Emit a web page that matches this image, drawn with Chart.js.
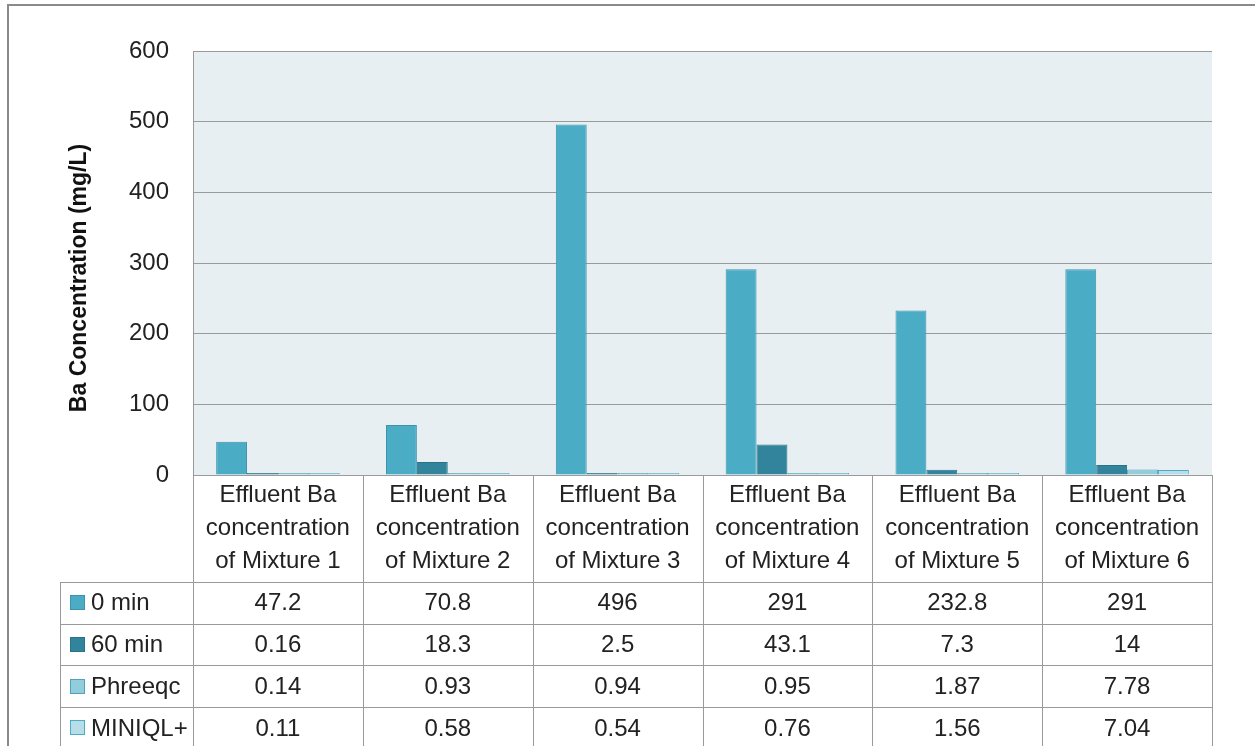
<!DOCTYPE html>
<html><head><meta charset="utf-8">
<script src="https://cdn.jsdelivr.net/npm/chart.js@4.4.0/dist/chart.umd.min.js"></script>
<style>html,body{margin:0;padding:0;background:#fff;overflow:hidden}</style>
</head><body>
<canvas id="c" width="1255" height="746"></canvas>
<script>
const categories = [
  ["Effluent Ba","concentration","of Mixture 1"],
  ["Effluent Ba","concentration","of Mixture 2"],
  ["Effluent Ba","concentration","of Mixture 3"],
  ["Effluent Ba","concentration","of Mixture 4"],
  ["Effluent Ba","concentration","of Mixture 5"],
  ["Effluent Ba","concentration","of Mixture 6"]
];
const seriesNames = ["0 min","60 min","Phreeqc","MINIQL+"];
const min0 = [47.2, 70.8, 496, 291, 232.8, 291];
const min60 = [0.16, 18.3, 2.5, 43.1, 7.3, 14];
const phreeqc = [0.14, 0.93, 0.94, 0.95, 1.87, 7.78];
const miniql = [0.11, 0.58, 0.54, 0.76, 1.56, 7.04];
const yTickValues = [0, 100, 200, 300, 400, 500, 600];
const yTitle = "Ba Concentration (mg/L)";

const fills = ["#4BACC6", "#31849B", "#92CDDC", "#B7DEE8"];
const borders = ["#3E93AA", "#2A7387", "#4FA3BA", "#4BACC6"];
const seriesData = [min0, min60, phreeqc, miniql];
const FONT = "'Liberation Sans', Arial, sans-serif";
const TXT = "#222222";
const LINE = "#9a9a9a";

const tablePlugin = {
  id: 'tablePlugin',
  beforeDraw(chart) {
    const ctx = chart.ctx, a = chart.chartArea;
    ctx.save();
    ctx.fillStyle = "#E8EFF3";
    ctx.fillRect(a.left, a.top, a.right - a.left, a.bottom - a.top);
    ctx.strokeStyle = "#8a8a8a";
    ctx.lineWidth = 2;
    ctx.beginPath();
    ctx.moveTo(8, 746); ctx.lineTo(8, 5); ctx.lineTo(1255, 5);
    ctx.stroke();
    ctx.restore();
  },
  afterDraw(chart) {
    const ctx = chart.ctx, a = chart.chartArea, xs = chart.scales.x;
    const n = categories.length;
    const centers = categories.map((c, i) => xs.getPixelForValue(i));
    const bounds = [a.left];
    for (let i = 0; i < n - 1; i++) bounds.push((centers[i] + centers[i + 1]) / 2);
    bounds.push(a.right);
    const headerBottom = 582, rowH = 41.7, tableLeft = 60, bottom = 746;
    ctx.save();
    ctx.strokeStyle = LINE;
    ctx.lineWidth = 1;
    ctx.beginPath();
    bounds.forEach(x => { const px = Math.round(x) + 0.5; ctx.moveTo(px, a.bottom); ctx.lineTo(px, bottom); });
    ctx.moveTo(tableLeft + 0.5, headerBottom); ctx.lineTo(tableLeft + 0.5, bottom);
    for (let r = 0; r < 4; r++) {
      const y = Math.round(headerBottom + r * rowH) + 0.5;
      ctx.moveTo(tableLeft, y); ctx.lineTo(a.right, y);
    }
    ctx.stroke();
    ctx.fillStyle = TXT;
    ctx.font = "24px " + FONT;
    ctx.textAlign = "center";
    ctx.textBaseline = "middle";
    const lineYs = [495, 528, 561];
    categories.forEach((lines, i) => {
      lines.forEach((t, j) => ctx.fillText(t, centers[i], lineYs[j]));
    });
    seriesData.forEach((arr, r) => {
      const cy = headerBottom + r * rowH + rowH / 2;
      ctx.textAlign = "center";
      ctx.fillStyle = TXT;
      arr.forEach((v, i) => ctx.fillText(String(v), centers[i], cy + 1));
      ctx.fillStyle = fills[r];
      ctx.fillRect(70, Math.round(cy - 7.5), 15, 15);
      ctx.strokeStyle = borders[r];
      ctx.strokeRect(70.5, Math.round(cy - 7.5) + 0.5, 14, 14);
      ctx.fillStyle = TXT;
      ctx.textAlign = "left";
      ctx.fillText(seriesNames[r], 91, cy + 1);
    });
    ctx.translate(80, 278);
    ctx.rotate(-Math.PI / 2);
    ctx.font = "bold 23px " + FONT;
    ctx.textAlign = "center";
    ctx.fillStyle = "#111";
    ctx.fillText(yTitle, 0, 0);
    ctx.restore();
  }
};

new Chart(document.getElementById('c'), {
  type: 'bar',
  data: {
    labels: categories,
    datasets: seriesNames.map((name, i) => ({
      label: name,
      data: seriesData[i],
      backgroundColor: fills[i],
      borderColor: borders[i],
      borderWidth: 1,
      minBarLength: 2,
      categoryPercentage: 4 / 5.5,
      barPercentage: 1
    }))
  },
  options: {
    responsive: false,
    animation: false,
    devicePixelRatio: 1,
    layout: { padding: { left: 0, top: 51, right: 43, bottom: 271 } },
    plugins: { legend: { display: false }, tooltip: { enabled: false } },
    scales: {
      x: { display: false, offset: true, grid: { display: false } },
      y: {
        min: 0, max: 600,
        afterBuildTicks: s => { s.ticks = yTickValues.map(v => ({ value: v })); },
        afterFit: s => { s.width = 193; },
        ticks: { font: { family: FONT, size: 24 }, color: TXT, padding: 24 },
        grid: { color: LINE, lineWidth: 1, drawTicks: false },
        border: { display: true, color: LINE, width: 1 }
      }
    }
  },
  plugins: [tablePlugin]
});
</script>
</body></html>
